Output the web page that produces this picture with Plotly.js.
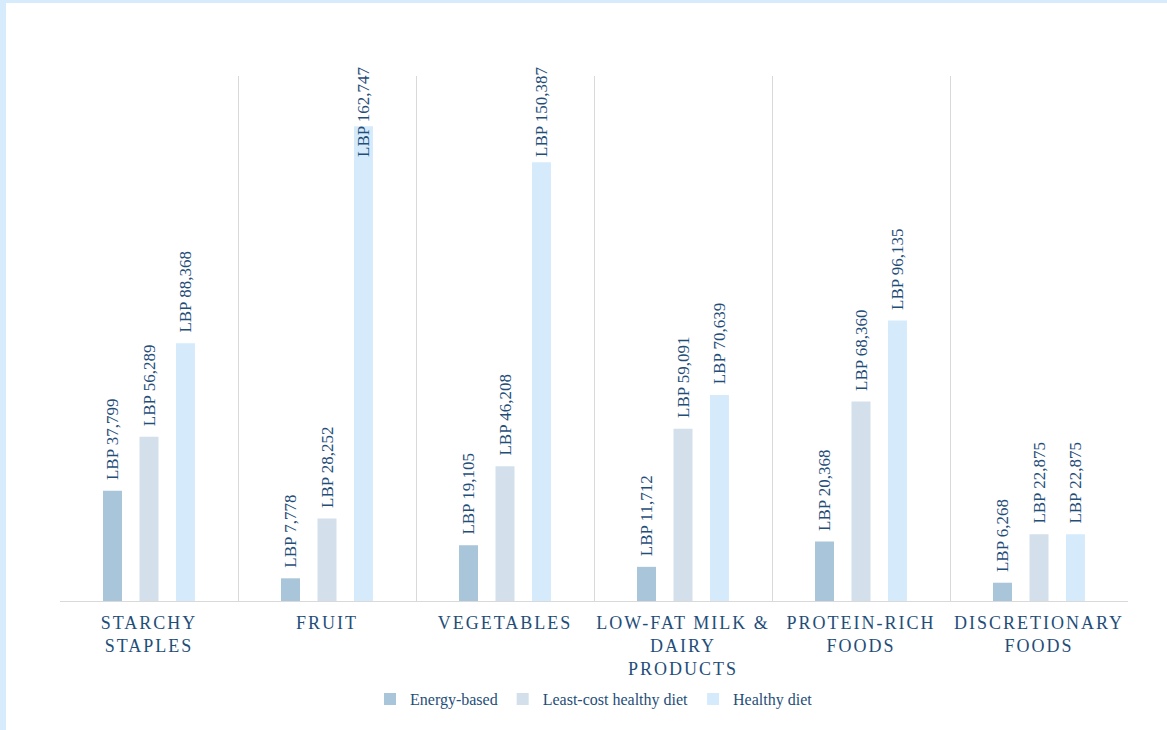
<!DOCTYPE html>
<html>
<head>
<meta charset="utf-8">
<script src="https://cdn.plot.ly/plotly-3.0.1.min.js"></script>
<style>
  html, body { margin: 0; padding: 0; background: #d6ebfb; width: 1167px; height: 730px; overflow: hidden; }
  #chart { position: absolute; left: 6px; top: 3px; width: 1161px; height: 727px; background: #fff; }
  .xtick text { letter-spacing: 2px; }
</style>
</head>
<body>
<div id="chart"></div>
<script>
const categories = ["STARCHY<br>STAPLES", "FRUIT", "VEGETABLES", "LOW-FAT MILK &<br>DAIRY<br>PRODUCTS", "PROTEIN-RICH<br>FOODS", "DISCRETIONARY<br>FOODS"];
const seriesNames = ["Energy-based", "Least-cost healthy diet", "Healthy diet"];
const energyBased = [37799, 7778, 19105, 11712, 20368, 6268];
const leastCost = [56289, 28252, 46208, 59091, 68360, 22875];
const healthyDiet = [88368, 162747, 150387, 70639, 96135, 22875];
const colors = ["#a9c5d9", "#d3e0eb", "#d5ebfc"];

const FONT = "Liberation Serif";
const LABEL_COLOR = "#1f4e79";
const Y_MAX = 180000;
const PLOT_H = 525;            // plot area height in px
const LABEL_LEN_PX = 100;      // approximate rotated label length incl. gap
const TOP_OVERHANG_PX = 12;    // labels may rise this far above the plot area (as in the source chart)
const GROUP_STEP_PX = 36.5;    // distance between bar centres inside a group

const allSeries = [energyBased, leastCost, healthyDiet];
const fmt = v => "LBP " + v.toLocaleString("en-US");
const GAP = "\u00A0\u2009";

// labels that would rise too far above the plot get clamped (like the source spreadsheet chart)
const pxOf = v => v / Y_MAX * PLOT_H;
const isClamped = v => pxOf(v) + LABEL_LEN_PX > PLOT_H + TOP_OVERHANG_PX;

const traces = allSeries.map((vals, i) => ({
  type: "bar",
  name: seriesNames[i],
  x: categories,
  y: vals,
  text: vals.map(v => isClamped(v) ? "" : GAP + fmt(v)),
  textposition: "outside",
  textangle: -90,
  constraintext: "none",
  cliponaxis: false,
  textfont: { family: FONT, size: 17, color: LABEL_COLOR },
  marker: { color: colors[i] },
  hoverinfo: "none"
}));

const annotations = [];
allSeries.forEach((vals, i) => {
  vals.forEach((v, j) => {
    if (isClamped(v)) {
      annotations.push({
        x: categories[j], y: Y_MAX, xref: "x", yref: "y",
        xshift: (i - 1) * GROUP_STEP_PX, yshift: TOP_OVERHANG_PX,
        yanchor: "top", xanchor: "center",
        text: fmt(v), textangle: -90, showarrow: false,
        font: { family: FONT, size: 17, color: LABEL_COLOR }
      });
    }
  });
});

const layout = {
  width: 1161,
  height: 727,
  margin: { l: 54, r: 39, t: 73, b: 129 },
  paper_bgcolor: "#ffffff",
  plot_bgcolor: "#ffffff",
  font: { family: FONT, color: LABEL_COLOR },
  barmode: "group",
  bargap: 0.385,
  bargroupgap: 0.48,
  showlegend: true,
  annotations: annotations,
  legend: {
    orientation: "h",
    x: 0.5, xanchor: "center",
    y: -0.187, yanchor: "middle",
    font: { family: FONT, size: 16, color: LABEL_COLOR },
    traceorder: "normal"
  },
  xaxis: {
    type: "category",
    tickson: "boundaries",
    ticks: "",
    ticklabelstandoff: 5,
    showgrid: true,
    gridcolor: "#d9d9d9",
    gridwidth: 1,
    showline: true,
    linecolor: "#d9d9d9",
    linewidth: 1,
    tickfont: { family: FONT, size: 18, color: LABEL_COLOR },
    fixedrange: true
  },
  yaxis: {
    range: [0, Y_MAX],
    showgrid: false,
    showticklabels: false,
    zeroline: false,
    showline: false,
    ticks: "",
    fixedrange: true
  }
};

Plotly.newPlot("chart", traces, layout, { displayModeBar: false, staticPlot: true });
</script>
</body>
</html>
